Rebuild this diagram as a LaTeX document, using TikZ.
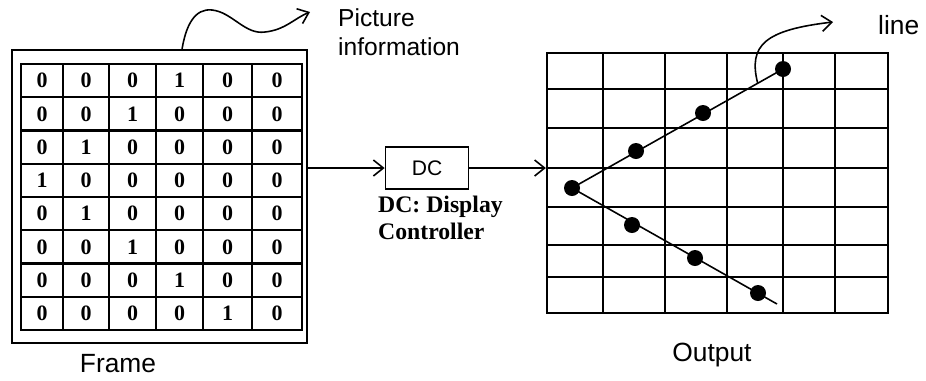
\documentclass[tikz,border=0pt]{standalone}
\usepackage{fontspec}
\setmainfont{Liberation Serif}
\setsansfont{Liberation Sans}
\usetikzlibrary{calc,fit,arrows.meta}
\tikzset{
  lab/.style={font=\sffamily\fontsize{15}{18}\selectfont},
  note/.style={font=\bfseries\fontsize{13.5}{15.5}\selectfont, align=left},
  digit/.style={font=\bfseries\fontsize{12.5}{14}\selectfont},
  gridLine/.style={line width=1.2pt},
  boxLine/.style={draw, line width=1.3pt, inner sep=0pt},
  pix/.style={circle, fill=black, inner sep=0pt, minimum size=0.32cm},
  wire/.style={line width=0.9pt, -{Straight Barb[length=2mm,width=3.2mm]}}
}

\begin{document}
\begin{tikzpicture}[x=0.02cm, y=-0.02cm]
    \useasboundingbox (0,0) rectangle (926,380);

    % Frame
    \coordinate (fa) at (12,50);
    \coordinate (fb) at (307,343);
    \node[boxLine, fit=(fa)(fb)] (frame) {};
    \draw[gridLine] (21,64) rectangle (302,330);
    \foreach \x in {63,109,156,203,252} \draw[gridLine] (\x,64) -- (\x,330);
    \foreach \i in {1,...,7} \draw[gridLine] (21,64+33.25*\i) -- (302,64+33.25*\i);
    \foreach \one [count=\r] in {4,3,2,1,2,3,4,5}
      \foreach \cx [count=\c] in {42,86,132.5,179.5,227.5,277} {
        \pgfmathtruncatemacro{\v}{\c==\one}
        \node[digit] (d\r\c) at (\cx,64+33.25*\r-16.6) {\v};
      }
    \node[lab, inner sep=1pt] (framelab) at (118,364) {Frame};

    % Picture information
    \node[lab, font=\sffamily\fontsize{14}{16.5}\selectfont, anchor=north west, align=left] (picinfo) at (332,2) {Picture\\information};
    \coordinate (pictip) at (310,12);
    \draw[wire] ($(frame.north west)!0.576!(frame.north east)$) .. controls (186,25) and (195,8) .. (212,10)
        .. controls (232,12) and (245,35) .. (265,32) .. controls (285,30) and (295,18) .. (pictip);

    % DC
    \node[boxLine, line width=1pt, font=\sffamily\fontsize{12}{14}\selectfont, minimum width=1.66cm, minimum height=0.84cm] (dc) at (427,168) {DC};
    \node[note, anchor=north west] (dcnote) at (372,190) {DC: Display\\Controller};

    % Output
    \coordinate (oa) at (547,53);
    \coordinate (ob) at (888,313);
    \node[boxLine, fit=(oa)(ob)] (out) {};
    \foreach \x in {603,665,727,783,835} \draw[gridLine] (\x,53) -- (\x,313);
    \foreach \y in {89,128,168,207,245,277} \draw[gridLine] (547,\y) -- (888,\y);
    \node[lab] (outlab) at (712,355) {Output};

    \draw[wire] (frame.east |- dc.west) -- (dc.west);
    \draw[wire] (dc.east) -- (dc.east -| out.west);

    % line of pixels
    \node[pix] (p1) at (572,188) {};
    \node[pix] (p2) at (636,151) {};
    \node[pix] (p3) at (703,113) {};
    \node[pix] (p4) at (783,69) {};
    \node[pix] (p5) at (632,225) {};
    \node[pix] (p6) at (695,258) {};
    \node[pix] (p7) at (758,293) {};
    \coordinate (lend) at (777,304);
    \draw[line width=0.9pt] (p4.center) -- (p1.center) -- (lend);

    \node[lab, anchor=west] (linelab) at (872,25) {line};
    \coordinate (lfoot) at ($(p1)!0.88!(p4)$);
    \coordinate (linetip) at (833,22);
    \draw[wire] (lfoot) .. controls (748,45) and (765,30) .. (linetip);
\end{tikzpicture}
\end{document}
